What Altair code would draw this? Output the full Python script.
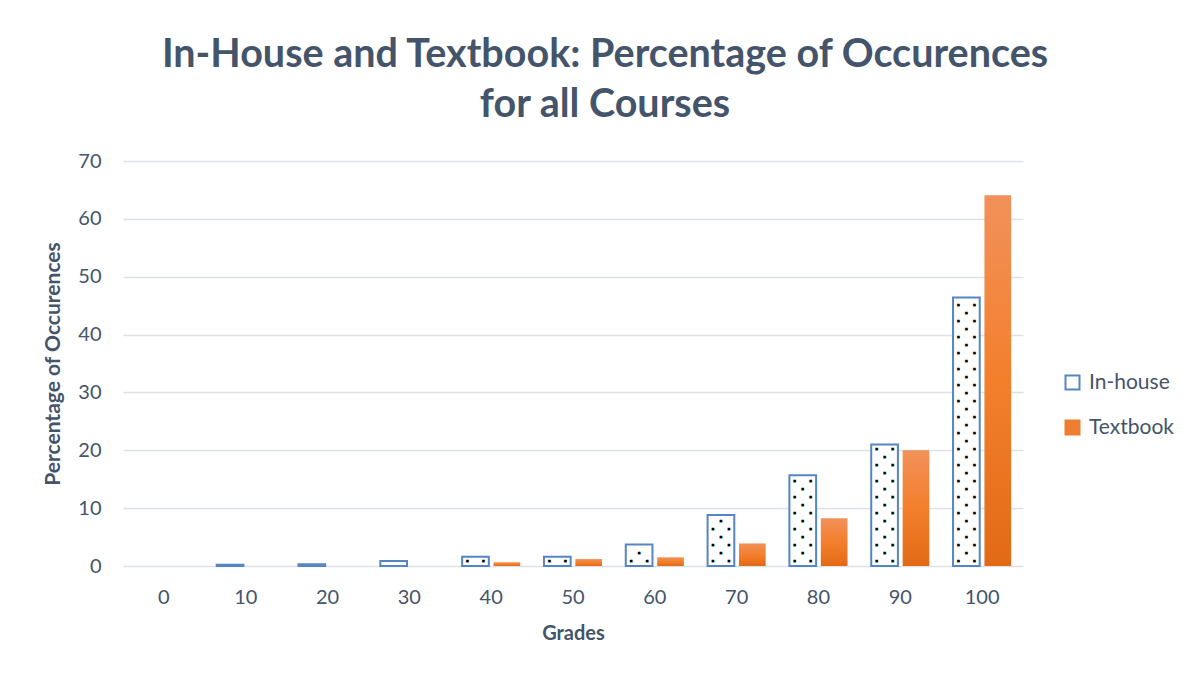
import altair as alt
import pandas as pd

grades = ["0", "10", "20", "30", "40", "50", "60", "70", "80", "90", "100"]
inhouse = [0, 0.2, 0.3, 0.85, 1.6, 1.6, 3.7, 8.8, 15.7, 21.0, 46.4]
textbook = [0, 0, 0, 0, 0.65, 1.2, 1.5, 3.9, 8.25, 20.0, 64.1]
series = ["In-house", "Textbook"]

W, H = 900, 405
YMAX = 70

rows = []
for g, a, b in zip(grades, inhouse, textbook):
    rows.append({"Grade": g, "Series": "In-house", "Value": a})
    rows.append({"Grade": g, "Series": "Textbook", "Value": b})
df = pd.DataFrame(rows)

# dotted pattern fill for the In-house bars (pattern derived from the bar heights)
px = H / YMAX
dots = []
for g, a in zip(grades, inhouse):
    hpx = a * px
    k = 0
    while 5 + 8 * k <= hpx - 3:
        yv = (5 + 8 * k) / px
        cols = ["L", "R"] if k % 2 == 0 else ["C"]
        for c in cols:
            dots.append({"Grade": g, "Series": "In-house", "Value": yv, "col": c})
        k += 1
dots_df = pd.DataFrame(dots)

TXT = "#44546A"
BLUE = "#5585C5"

x_enc = alt.X(
    "Grade:N", sort=grades,
    scale=alt.Scale(domain=grades, paddingInner=0.29, paddingOuter=0.145),
    axis=alt.Axis(title="Grades", labelAngle=0, labelFontSize=20, labelColor=TXT,
                  labelPadding=21, titleFontSize=20, titleFontWeight="bold",
                  titleColor=TXT, titlePadding=16, domain=False, ticks=False, grid=False),
)
xo_enc = alt.XOffset("Series:N", scale=alt.Scale(domain=series, paddingInner=0.15, paddingOuter=0))
y_enc = alt.Y(
    "Value:Q", scale=alt.Scale(domain=[0, YMAX], nice=False),
    axis=alt.Axis(values=list(range(0, 71, 10)), title="Percentage of Occurences",
                  labelFontSize=20, labelColor=TXT, labelPadding=22,
                  titleFontSize=21, titleFontWeight="bold", titleColor=TXT, titlePadding=14,
                  domain=False, ticks=False, gridColor="#DDE1E6", gridWidth=1.5),
)

base = alt.Chart(df)

legend = alt.Legend(title=None, orient="none", legendX=939, legendY=211,
                    symbolType="square", symbolSize=196, symbolStrokeWidth=2,
                    labelFontSize=21, labelColor=TXT, rowPadding=22, labelOffset=6)

inh = base.transform_filter(
    (alt.datum.Series == "In-house") & (alt.datum.Value > 0)
).mark_bar(strokeWidth=2).encode(
    x=x_enc, xOffset=xo_enc, y=y_enc,
    fill=alt.Fill("Series:N", scale=alt.Scale(domain=series, range=["#FFFFFF", "#EE7D31"]), legend=legend),
    stroke=alt.Stroke("Series:N", scale=alt.Scale(domain=series, range=[BLUE, "#EE7D31"]), legend=legend),
)

grad = alt.LinearGradient(
    gradient="linear", x1=0, x2=0, y1=0, y2=1,
    stops=[alt.GradientStop(color="#F2915A", offset=0),
           alt.GradientStop(color="#F37F2C", offset=0.5),
           alt.GradientStop(color="#E26A16", offset=1)],
)
tb = base.transform_filter(
    (alt.datum.Series == "Textbook") & (alt.datum.Value > 0)
).mark_bar(fill=grad).encode(
    x=x_enc, xOffset=xo_enc, y=y_enc,
)

dot_layers = []
for c, dx in [("L", -8), ("C", 0), ("R", 8)]:
    dot_layers.append(
        alt.Chart(dots_df).transform_filter(alt.datum.col == c)
        .mark_text(text="■", fontSize=3.5, dx=dx, baseline="middle", align="center",
                   color="#000000", font="DejaVu Sans")
        .encode(x=x_enc, xOffset=xo_enc, y=y_enc)
    )

chart = alt.layer(inh, tb, *dot_layers).properties(
    width=W, height=H,
    padding={"left": 115, "top": 153, "right": 163, "bottom": 105},
    autosize=alt.AutoSizeParams(type="none"),
    title=alt.TitleParams(
        text=["In-House and Textbook: Percentage of Occurences", "for all Courses"],
        fontSize=39.5, fontWeight="bold", color=TXT, font="Lato", lineHeight=50,
        anchor="middle", dx=32, offset=26,
    ),
).configure(font="Lato").configure_view(stroke=None)

chart.save("out.html", embed_options={"renderer": "svg", "actions": False})
